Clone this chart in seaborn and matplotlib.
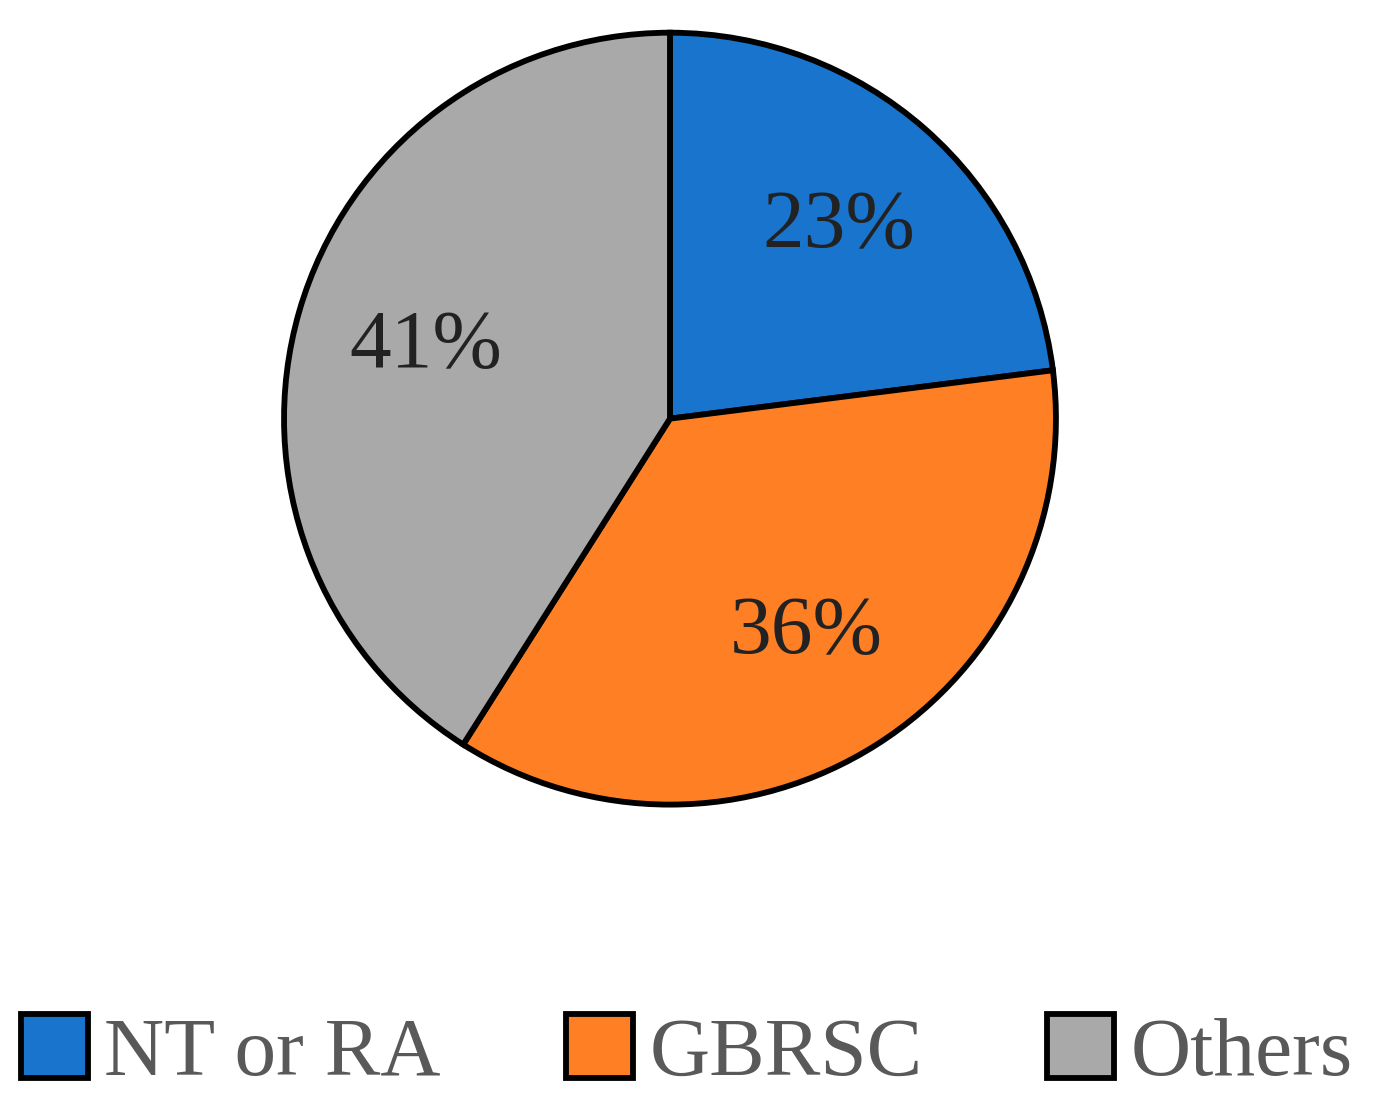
import seaborn as sns
import matplotlib.pyplot as plt
from matplotlib.patches import Patch

categories = ['NT or RA', 'GBRSC', 'Others']
shares = [23, 36, 41]
colors = ['#1874cd', '#ff7f24', '#a9a9a9']

sns.set_theme(style='white')
plt.rcParams['font.family'] = ['Liberation Serif', 'DejaVu Serif']

fig = plt.figure(figsize=(13.88, 11.09), dpi=100)
ax = fig.add_axes([0.2017, 0.271, 0.562, 0.703])
ax.pie(shares, colors=colors, startangle=90, counterclock=False,
       autopct='%d%%', pctdistance=0.66,
       wedgeprops=dict(edgecolor='black', linewidth=4.2),
       textprops=dict(fontsize=60, color='#222222'))
ax.set_aspect('equal')
ax.set_xlim(-1.01, 1.01)
ax.set_ylim(-1.01, 1.01)

handles = [Patch(facecolor=c, edgecolor='black', linewidth=4.2) for c in colors]
fig.legend(handles, categories, loc='center', bbox_to_anchor=(0.495, 0.05),
           ncol=3, frameon=False, fontsize=60, labelcolor='#595959',
           handlelength=0.8, handleheight=0.8, handletextpad=0.2, columnspacing=1.5)

fig.savefig('out.png', dpi=100)
